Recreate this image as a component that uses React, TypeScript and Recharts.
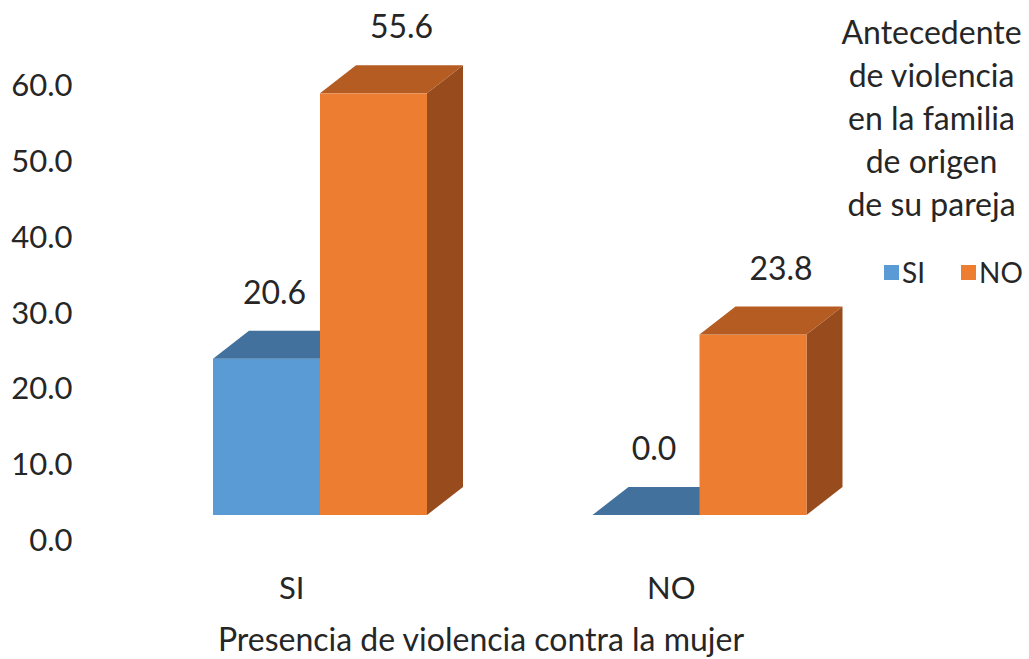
import React from "react";
import { BarChart, Bar, XAxis, YAxis, Legend, LabelList } from "recharts";

// Presencia de violencia contra la mujer (x) vs antecedente en la familia de la pareja (series)
const categories = ["SI", "NO"];
const siValues = [20.6, 0.0];
const noValues = [55.6, 23.8];
const yTicks = [0, 10, 20, 30, 40, 50, 60];
const seriesNames = ["SI", "NO"];
const legendTitle = ["Antecedente", "de violencia", "en la familia", "de origen", "de su pareja"];
const xAxisTitle = "Presencia de violencia contra la mujer";

const chartData = categories.map((name, i) => ({
  name,
  si: siValues[i],
  no: noValues[i],
}));

const FONT = "Lato, 'Open Sans', sans-serif";
const TEXT_COLOR = "#262626";
const DEPTH_X = 36;
const DEPTH_Y = 28;

const palette = {
  si: { front: "#5B9BD5", top: "#41719C", side: "#3A6690" },
  no: { front: "#ED7D31", top: "#B45C22", side: "#984C1D" },
};

// fake 3D box: front face + top face + right side
const make3DBar = (c: { front: string; top: string; side: string }) => (props: any) => {
  const { x, y, width, height } = props;
  if (x == null || y == null) return <g />;
  const h = Math.max(0, height || 0);
  const bottom = y + h;
  return (
    <g>
      <polygon
        points={`${x + width},${y} ${x + width + DEPTH_X},${y - DEPTH_Y} ${x + width + DEPTH_X},${bottom - DEPTH_Y} ${x + width},${bottom}`}
        fill={c.side}
      />
      {h > 0 && <rect x={x} y={y} width={width} height={h} fill={c.front} />}
      <polygon
        points={`${x},${y} ${x + width},${y} ${x + width + DEPTH_X},${y - DEPTH_Y} ${x + DEPTH_X},${y - DEPTH_Y}`}
        fill={c.top}
      />
    </g>
  );
};

const makeValueLabel = (dx: number) => (props: any) => {
  const { x, y, width, value } = props;
  return (
    <text
      x={x + width / 2 + dx}
      y={y - 66 + 11}
      textAnchor="middle"
      fontFamily={FONT}
      fontSize={32}
      fill={TEXT_COLOR}
    >
      {Number(value).toFixed(1)}
    </text>
  );
};

const YTick = (props: any) => {
  const { x, y, payload } = props;
  return (
    <text x={x} y={y + 25 + 11} textAnchor="end" fontFamily={FONT} fontSize={31} fill={TEXT_COLOR}>
      {Number(payload.value).toFixed(1)}
    </text>
  );
};

const XTick = (props: any) => {
  const { x, y, payload } = props;
  return (
    <text x={x - 28} y={y + 84} textAnchor="middle" fontFamily={FONT} fontSize={31} fill={TEXT_COLOR}>
      {payload.value}
    </text>
  );
};

const XTitle = (props: any) => {
  const vb = props.viewBox || { x: 130, y: 515, width: 759 };
  return (
    <text
      x={vb.x + vb.width / 2 - 28.5}
      y={vb.y + 136}
      textAnchor="middle"
      fontFamily={FONT}
      fontSize={32}
      fill={TEXT_COLOR}
    >
      {xAxisTitle}
    </text>
  );
};

const renderLegend = () => (
  <div style={{ fontFamily: FONT, color: TEXT_COLOR, width: 199 }}>
    <div style={{ textAlign: "center", fontSize: 32, lineHeight: "43px", paddingLeft: 4 }}>
      {legendTitle.map((line) => (
        <div key={line}>{line}</div>
      ))}
    </div>
    <div style={{ display: "flex", alignItems: "center", marginTop: 30, paddingLeft: 54, fontSize: 28 }}>
      {seriesNames.map((s, i) => (
        <div key={s} style={{ display: "flex", alignItems: "center", marginRight: i === 0 ? 36 : 0 }}>
          <span
            style={{
              display: "inline-block",
              width: 15,
              height: 15,
              background: i === 0 ? palette.si.front : palette.no.front,
              marginRight: 3,
            }}
          />
          <span>{s}</span>
        </div>
      ))}
    </div>
  </div>
);

export default function App() {
  return (
    <div style={{ position: "absolute", left: 0, top: 0, width: 1029, height: 659, background: "#fff" }}>
      <BarChart
        width={1029}
        height={659}
        data={chartData}
        margin={{ top: 60, right: 140, left: 0, bottom: 0 }}
        barSize={107}
        barGap={0}
      >
        <XAxis
          dataKey="name"
          height={144}
          axisLine={false}
          tickLine={false}
          tickSize={0}
          tickMargin={0}
          tick={<XTick />}
          label={<XTitle />}
        />
        <YAxis
          width={130}
          domain={[0, 60]}
          ticks={yTicks}
          axisLine={false}
          tickLine={false}
          tickSize={0}
          tickMargin={57.5}
          tick={<YTick />}
        />
        <Legend
          layout="horizontal"
          verticalAlign="middle"
          align="center"
          content={renderLegend}
          wrapperStyle={{ position: "absolute", top: 10, left: 830, width: 199 }}
        />
        <Bar dataKey="si" name="SI" shape={make3DBar(palette.si)} isAnimationActive={false}>
          <LabelList dataKey="si" content={makeValueLabel(8)} />
        </Bar>
        <Bar dataKey="no" name="NO" shape={make3DBar(palette.no)} isAnimationActive={false}>
          <LabelList dataKey="no" content={makeValueLabel(28)} />
        </Bar>
      </BarChart>
    </div>
  );
}
